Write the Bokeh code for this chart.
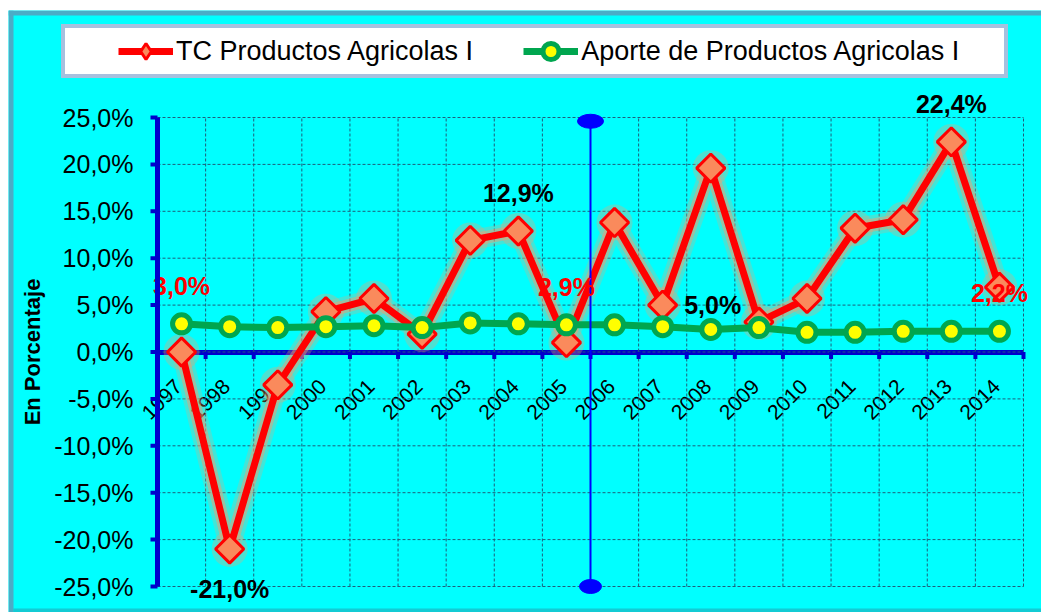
import math
from bokeh.plotting import figure
from bokeh.models import (Range1d, FixedTicker, Legend, LegendItem,
                          ColumnDataSource, LinearAxis)
from bokeh.core.properties import value
from bokeh.embed import file_html
from bokeh.resources import INLINE

# ---------------- data ----------------
years = ["1997", "1998", "1999", "2000", "2001", "2002", "2003", "2004", "2005",
         "2006", "2007", "2008", "2009", "2010", "2011", "2012", "2013", "2014"]
tc_productos = [0.0, -21.0, -3.5, 4.3, 5.7, 1.9, 11.9, 12.9, 1.0,
                13.8, 5.0, 19.6, 3.2, 5.7, 13.2, 14.1, 22.4, 6.9]
aporte_productos = [3.0, 2.7, 2.6, 2.7, 2.8, 2.6, 3.1, 3.0, 2.9,
                    2.9, 2.7, 2.4, 2.6, 2.1, 2.1, 2.2, 2.2, 2.2]
y_ticks = [-25, -20, -15, -10, -5, 0, 5, 10, 15, 20, 25]
series_names = ["TC Productos Agricolas I", "Aporte de Productos Agricolas I"]
axis_title = "En Porcentaje"
tc_labelled = {"1998": "below", "2004": "above", "2007": "right", "2013": "above"}
aporte_labelled = {"1997": "above", "2005": "above", "2014": "above"}
divider_after_year = "2005"

# ---------------- layout constants (page pixels) ----------------
FONT = "Liberation Sans"
AXIS_BLUE = "#0000CC"
ORIGIN_X, ORIGIN_Y = 8, 10          # canvas position on page (css margins)
W, H = 1041 - ORIGIN_X, 612 - ORIGIN_Y
AX_LEFT, AX_RIGHT, AX_TOP, AX_BOTTOM = 157, 1023, 117, 586   # plot-area box
FR_LEFT, FR_TOP, FR_RIGHT, FR_BOTTOM = ORIGIN_X, ORIGIN_Y, ORIGIN_X + W, ORIGIN_Y + H
TICK_LEN = 7

n = len(years)
xc = [i + 0.5 for i in range(n)]
ymin, ymax = y_ticks[0], y_ticks[-1]
px_x = (AX_RIGHT - AX_LEFT) / n
px_y = (AX_BOTTOM - AX_TOP) / (ymax - ymin)


def dx(px):   # page pixel -> data x
    return (px - AX_LEFT) / px_x


def dy(py):   # page pixel -> data y
    return ymax + (AX_TOP - py) / px_y


def pct(v):
    return f"{v:.1f}%".replace(".", ",")


OFFS = {"above": (0, -38), "below": (0, 40), "right": (50, 0)}

p = figure(width=W, height=H, output_backend="svg", toolbar_location=None,
           x_range=Range1d(dx(FR_LEFT), dx(FR_RIGHT)),
           y_range=Range1d(dy(FR_BOTTOM), dy(FR_TOP)),
           min_border_left=0, min_border_right=0, min_border_top=0, min_border_bottom=0,
           background_fill_color="#00FFFF", border_fill_color="#00FFFF",
           outline_line_color=None)
p.styles = {"margin-left": f"{ORIGIN_X}px", "margin-top": f"{ORIGIN_Y}px"}
p.left = []
p.below = []
p.center = []
# off-screen range used only for the legend swatch
p.extra_y_ranges = {"offscreen": Range1d(1000, 2000)}

# outer chart border (left and top edges) and bottom shading
p.segment(x0=[dx(ORIGIN_X + 2.5)], y0=[dy(FR_BOTTOM)], x1=[dx(ORIGIN_X + 2.5)], y1=[dy(FR_TOP)],
          line_color="#4BACC6", line_width=5)
p.segment(x0=[dx(FR_LEFT)], y0=[dy(ORIGIN_Y + 2.5)], x1=[dx(FR_RIGHT)], y1=[dy(ORIGIN_Y + 2.5)],
          line_color="#4BACC6", line_width=5)
p.segment(x0=[dx(ORIGIN_X + 5)], y0=[dy(FR_BOTTOM - 2)], x1=[dx(FR_RIGHT)], y1=[dy(FR_BOTTOM - 2)],
          line_color="#1FA8B8", line_width=4, line_alpha=0.6)

# ---------------- grid (dashed) ----------------
GRID = dict(line_color="#1D5F7A", line_width=1, line_dash="3 2")
p.multi_line(xs=[[b, b] for b in range(n + 1)], ys=[[ymin, ymax]] * (n + 1), **GRID)
p.multi_line(xs=[[0, n]] * len(y_ticks), ys=[[t, t] for t in y_ticks], **GRID)

# tick marks (outward) for both axes
p.segment(x0=[dx(AX_LEFT - TICK_LEN)] * len(y_ticks), y0=y_ticks, x1=[0] * len(y_ticks),
          y1=y_ticks, line_color=AXIS_BLUE, line_width=4)
p.segment(x0=list(range(n + 1)), y0=[-TICK_LEN / px_y] * (n + 1),
          x1=list(range(n + 1)), y1=[0] * (n + 1), line_color=AXIS_BLUE, line_width=4)

# ---------------- axes ----------------
xax = LinearAxis(ticker=FixedTicker(ticks=[]), fixed_location=0, bounds=(0, n))
xax.axis_line_color = AXIS_BLUE
xax.axis_line_width = 5
xax.major_tick_line_color = None
xax.minor_tick_line_color = None
xax.major_label_text_alpha = 0
xax.level = "underlay"
p.add_layout(xax, "below")

# category labels, rotated, hanging below the zero line
p.text(x=xc, y=[0] * n, text=years, angle=math.pi / 4, x_offset=-3, y_offset=31,
       text_align="right", text_baseline="middle", text_font=value(FONT),
       text_font_size="21px", text_color="black", level="underlay")

yax = LinearAxis(ticker=FixedTicker(ticks=y_ticks), fixed_location=0, bounds=(ymin, ymax))
yax.major_label_overrides = {t: pct(t) for t in y_ticks}
yax.major_label_text_font = FONT
yax.major_label_text_font_size = "25px"
yax.major_label_text_color = "black"
yax.major_label_standoff = 17
yax.axis_line_color = AXIS_BLUE
yax.axis_line_width = 5
yax.major_tick_line_color = None
yax.major_tick_out = TICK_LEN
yax.major_tick_in = 0
yax.minor_tick_line_color = None
yax.axis_label = axis_title
yax.axis_label_text_font = FONT
yax.axis_label_text_font_style = "bold"
yax.axis_label_text_font_size = "22px"
yax.axis_label_text_color = "black"
yax.axis_label_standoff = 6
p.add_layout(yax, "left")

src = ColumnDataSource(dict(x=xc, tc=tc_productos, ap=aporte_productos))

# red series with glow
p.line("x", "tc", source=src, line_color="#FF9A66", line_width=20, line_alpha=0.25)
p.line("x", "tc", source=src, line_color="#FF9A66", line_width=13, line_alpha=0.45)
p.scatter("x", "tc", source=src, marker="circle", size=36, fill_color="#FF9A66",
          fill_alpha=0.3, line_color=None)
r_line = p.line("x", "tc", source=src, line_color="#FF0000", line_width=7)
r_marks = p.scatter("x", "tc", source=src, marker="square", angle=math.pi / 4, size=20,
                    fill_color="#FA8A5C", line_color="#FF0000", line_width=3)

g_line = p.line("x", "ap", source=src, line_color="#00A64F", line_width=7)
g_marks = p.scatter("x", "ap", source=src, marker="circle", size=18,
                    fill_color="#FFFF00", line_color="#00A64F", line_width=5)

# legend swatch: same data mapped to an off-screen range, so only the legend shows it
r_legend_marker = p.scatter("x", "tc", source=src, y_range_name="offscreen",
                            marker="diamond", size=20,
                            fill_color="#FA8A5C", line_color="#FF0000", line_width=3)

# divider between categories
div_x = years.index(divider_after_year) + 1
div_top = ymax - 0.4
p.segment(x0=[div_x], y0=[ymin], x1=[div_x], y1=[div_top], line_color="#0000FF", line_width=2)
p.ellipse(x=[div_x, div_x], y=[div_top, ymin], width=[26, 22], height=[14, 14],
          width_units="screen", height_units="screen",
          fill_color="#0000FF", line_color="#0000FF")


# data labels
def label_source(vals, chosen):
    xs, ys, ts, xo, yo = [], [], [], [], []
    for yr, where in chosen.items():
        i = years.index(yr)
        xs.append(xc[i]); ys.append(vals[i]); ts.append(pct(vals[i]))
        xo.append(OFFS[where][0]); yo.append(OFFS[where][1])
    return ColumnDataSource(dict(x=xs, y=ys, t=ts, xo=xo, yo=yo))


TXT = dict(x_offset="xo", y_offset="yo", text_align="center", text_baseline="middle",
           text_font=value(FONT), text_font_style="bold", text_font_size="25px")
p.text("x", "y", text="t", source=label_source(tc_productos, tc_labelled),
       text_color="black", **TXT)
p.text("x", "y", text="t", source=label_source(aporte_productos, aporte_labelled),
       text_color="#FF0000", **TXT)

# ---------------- legend ----------------
legend = Legend(items=[LegendItem(label=series_names[0], renderers=[r_line, r_legend_marker]),
                       LegendItem(label=series_names[1], renderers=[g_line, g_marks])],
                orientation="horizontal",
                location=(61 - FR_LEFT, FR_BOTTOM - 78),
                border_line_color="#4F81BD", border_line_width=4,
                background_fill_color="white", background_fill_alpha=1,
                label_text_font=FONT, label_text_font_size="27px",
                label_text_color="black",
                glyph_width=55, glyph_height=40, spacing=50,
                label_standoff=3, margin=0)
try:
    legend.padding = dict(left=53, right=45, top=3, bottom=3)
except Exception:
    legend.padding = 6
p.add_layout(legend)

open("out.html", "w").write(file_html(p, INLINE))
